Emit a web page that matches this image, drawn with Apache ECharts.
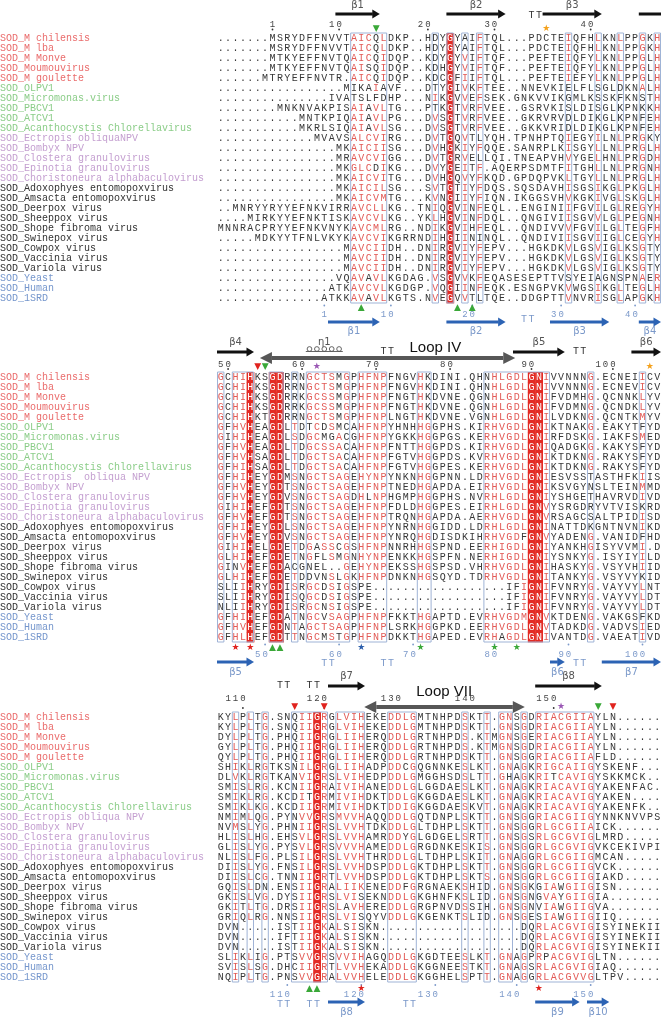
<!DOCTYPE html>
<html>
<head>
<meta charset="utf-8">
<script src="https://cdn.jsdelivr.net/npm/echarts/dist/echarts.min.js"></script>
<style>
html,body{margin:0;padding:0;background:#fff}
#chart{width:661px;height:1022px}
</style>
</head>
<body>
<div id="chart"></div>
<script>
// ---- data ----
const names = ['SOD_M chilensis','SOD_M lba','SOD_M Monve','SOD_Moumouvirus','SOD_M goulette',
  'SOD_OLPV1','SOD_Micromonas.virus','SOD_PBCV1','SOD_ATCV1','SOD_Acanthocystis Chlorellavirus',
  'SOD_Ectropis obliquaNPV','SOD_Bombyx NPV','SOD_Clostera granulovirus','SOD_Epinotia granulovirus',
  'SOD_Choristoneura alphabaculovirus','SOD_Adoxophyes entomopoxvirus','SOD_Amsacta entomopoxvirus',
  'SOD_Deerpox virus','SOD_Sheeppox virus','SOD_Shope fibroma virus','SOD_Swinepox virus',
  'SOD_Cowpox virus','SOD_Vaccinia virus','SOD_Variola virus','SOD_Yeast','SOD_Human','SOD_1SRD'];
const ectropisNames = ['SOD_Ectropis obliquaNPV','SOD_Ectropis  obliqua NPV','SOD_Ectropis obliqua NPV'];
const nameGroup = [0,0,0,0,0,1,1,1,1,1,2,2,2,2,2,3,3,3,3,3,3,3,3,3,4,4,4];

const seqBlock1 = [
  '.......MSRYDFFNVVTAICQLDKP..HDYGYAIFTQL...PDCTEIQFHLKNLPPGKH',
  '.......MSRYDFFNVVTAICQLDKP..HDYGYAIFTQL...PDCTEIQFHLKNLPPGKH',
  '.......MTKYEFFNVTQAICQIDQP..KDYGYVIFTQF...PEFTEIQFYLKNLPPGLH',
  '.......MTKYEFFNVTQAISQIDQP..KDHGYVIFTQF...PEFTEIQFYLKNLPPGLH',
  '......MTRYEFFNVTR.AICQIDQP..KDCGFIIFTQL...PEFTEIEFYLKNLPPGLH',
  '.................MIKAIAVF...DTYGIVKFTEE..NNEVKIELFLSGLDKNALH',
  '...............IVATSLFDHP...NIKGVVEFSEK.GNKVVIKGMLKSSKFKNSTH',
  '........MNKNVAKPISAIAVLTG...PTKGTVRFVEE..GSRVKISLDISGLKPNKKH',
  '...........MNTKPIQAIAVLPG...DVSGTVRFVEE..GKRVRVDLDIKGLKPNFEH',
  '...........MKRLSIQAIAVLSG...DVSGTVRFVEE..GKKVRIDLDIKGLKPNFEH',
  '.............MVAVSALCVIRG...DVTGQVTLYQH.TPNHPTQIEGYILNLPRGKY',
  '................MKAICIISG...DVHGKIYFQQE.SANRPLKISGYLLNLPRGLH',
  '................MRAVCVIGG...DVTGRVELLQI.TNEAPVHVYGELHNLPRGDH',
  '................MKGLCDIKG...DVYGEITF.AQERPSDMTFITGHLLNLPRGNH',
  '................MKAICVITG...DVHGQVYFKQD.GPDQPVKLTGYLLNLPRGLH',
  '................MKAICILSG...SVTGTIYFDQS.SQSDAVHISGSIKGLPKGLH',
  '................MKAICVMTG...KVNGIIYFIQN.IKGGSVHVKGKIVGLSKGLH',
  '..MNRYYRYYEFNKVIRRAVCLLKG..TNIQGVINFEQL..ENGINIIFGVILGLREGYH',
  '....MIRKYYEFNKTISKAVCVLKG..YKLHGVINFDQL..QNGIVIISGVVLGLPEGNH',
  'MNNRACPRYYEFNKVNYKAVCMLRG..NDIKGVIHFEQL..QNDIVVVFGVILGLTEGFH',
  '.....MDKYYTFNLVKYKAVCVIKGRRNDIHGIININQL..QNDIVIISGVIIGLCEGYH',
  '.................MAVCIIDH..DNIRGVIYFEPV...HGKDKVLGSVIGLKSGTY',
  '.................MAVCIIDH..DNIRGVIYFEPV...HGKDKVLGSVIGLKSGTY',
  '.................MAVCIIDH..DNIRGVIYFEPV...HGKDKVLGSVIGLKSGTY',
  '................VQAVAVLKGDAG.VSGVVKFEQASESEPTTVSYEIAGNSPNAER',
  '...............ATKAVCVLKGDGP.VQGIINFEQK.ESNGPVKVWGSIKGLTEGLH',
  '..............ATKKAVAVLKGTS.NVEGVVTLTQE..DDGPTTVNVRISGLAPGKH'
];
const seqBlock2 = [
  'GCHIHKSGDRRNGCTSMGPHFNPFNGVHKDINI.QHNHLGDLGNIVVNNNG.ECNEIICV',
  'GCHIHKSGDRRNGCTSMGPHFNPFNGVHKDINI.QHNHLGDLGNIVVNNNG.ECNEVICV',
  'GCHIHKSGDRRKGCSSMGPHFNPFNGTHKDVNE.QGNHLGDLGNIFVDMHG.QCNNKLYV',
  'GCHIHKSGDRRKGCSSMGPHFNPFNGTHKDVNE.QGNHLGDLGNIFVDMNG.QCNDKLYV',
  'GCHIHKTGDRRNGCTSMGPHFNPLNGTHKDVNE.VGNHLGDLGNILVDKNG.QCNTKMYV',
  'GFHVHEAGDLTDTCDSMCAHFNPYHNHHGGPHS.KIRHVGDLGNIKTNAKG.EAKYTFYD',
  'GIHIHEAGDLSDGCMGACGHFNPYGKKHGGPGS.KERHVGDLGNIRFDSKG.IAKFSMED',
  'GFHVHEAGDLTDGCSSACAHFNPFNTTHGGPDS.KIRHVGDLGNIQADGKG.KAKYSFYD',
  'GFHVHSAGDLTDGCTSACAHFNPFGTVHGGPDS.KVRHVGDLGNIKTDKNG.RAKYSFYD',
  'GFHIHSAGDLTDGCTSACAHFNPFGTVHGGPES.KERHVGDLGNIKTDKNG.RAKYSFYD',
  'GFHIHEYGDMSNGCTSAGEHYNPYNKNHGGPNN.LDRHVGDLGNIESVSSTASTHFKIIS',
  'GFHVHEYGDTSNGCTSAGEHFNPTNEDHGAPDA.EIRHVGDLGNIKSVGYNSLTEINMMD',
  'GFHVHEYGDVSNGCTSAGDHLNPHGMPHGGPHS.NVRHLGDLGNIYSHGETHAVRVDIVD',
  'GIHIHEFGDTSNGCTSAGEHFNPFDLDHGGPES.EIRHLGDLGNVYSRGDRYVTVISKRD',
  'GFHVHEFGDTSNGCTSAGEHFNPTRQNHGAPDA.AERHVGDLGNVRSAGCSALTPIDISD',
  'GFHIHEYGDLSNGCTSAGEHFNPYNRNHGGIDD.LDRHLGDLGNINATTDKGNTNVNIKD',
  'GFHVHEYGDVSNGCTSAGEHFNPYNRQHGDISDKIHRHVGDFGNVYADENG.VANIDFHD',
  'GIHIHELGDETDGASSCGSHFNPNNRHHGSPND.EERHIGDLGNIYANKHGISYVVMI.D',
  'GLHIHEFGDETNGFLSMGNHYNPENKKHGSPFN.NERHIGDLGNIYSNKYG.ISYIYILD',
  'GINVHEFGDACGNEL..GEHYNPEKSSHGSPSD.VHRHVGDLGNIHASKYG.VSYVHIID',
  'GLHIHEFGDETDDVNSLGKHFNPDNKNHGSQYD.TDRHVGDLGNITANKYG.VSYVYKID',
  'SLIIHRYGDISRGCDSIGSPE..................IFIGNIFVNRYG.VAYVYLNT',
  'SLIIHRYGDISQGCDSIGSPE..................IFIGNIFVNRYG.VAYVYLDT',
  'NLIIHRYGDISRGCNSIGSPE..................IFIGNIFVNRYG.VAYVYLDT',
  'GFHIHEFGDATNGCVSAGPHFNPFKKTHGAPTD.EVRHVGDMGNVKTDENG.VAKGSFKD',
  'GFHVHEFGDNTAGCTSAGPHFNPLSRKHGGPKD.EERHVGDLGNVTADKDG.VADVSIED',
  'GFHLHEFGDTTNGCMSTGPHFNPDKKTHGAPED.EVRHAGDLGNIVANTDG.VAEATIVD'
];
const seqBlock3 = [
  'KYLPLTG.SNQIIGRGLVIHEKEDDLGMTNHPDSKTT.GNSGDRIACGIIAYLN......',
  'KYLPLTG.SNQIIGRGLVIHEKEDDLGMTNHPDSKTT.GNSGDRIACGIIAYLN......',
  'DYLPLTG.PHQIIGRGLIIHERQDDLGRTNHPDS.KTMGNSGERIACGIIAYLN......',
  'GYLPLTG.PHQIIGRGLIIHERQDDLGRTNHPDS.KTMGNSGDRIACGIIAYLN......',
  'QYLPLTG.PHQIIGRGLIIHERQDDLGRTNHPDSKTT.GNSGGRIACGIIAFLD......',
  'SHIKLRGTKSNILGRGLIIHADPDDCGQGNNKESLKT.GNAGKRIGCAIIGYSKENF...',
  'DLVKLRGTKANVIGRSLVIHEDPDDLGMGGHSDSLTT.GHAGKRITCAVIGYSKKMCK..',
  'SMISLRG.KCNIIGRAIVIHANEDDLGLGGDAESLKT.GNAGKRIACAVIGYAKENFAC.',
  'SMIKLRG.KCDITGRMIVIHDKTDDLGKGGDAESLKT.GNAGKRIACAVIGYAKEN....',
  'SMIKLKG.KCDIIGRMIVIHDKTDDIGKGGDAESKVT.GNAGKRIACAVIGYAKENFK..',
  'NMIMLQG.PYNVVGRSMVVHAQQDDLGQTDNPLSKTT.GNSGGRIACGIIGYNNKNVVPS',
  'NVMSLYG.PHNIIGRSLVVHTDKDDLGLTDHPLSKTT.GNSGGRLGCGIIAICK......',
  'HLISLHG.EHSVLGRSLVVHAMRDDYGLGDGELSRTT.GNSGSRLGCGVIGLMRD.....',
  'GLISLYG.PYSVLGRSVVVHAMEDDLGRGDNKESKIS.GNSGGRLGCGVIGVKCEKIVPI',
  'NLISLFG.PLSILGRSLVVHTHRDDLGLTDHPLSKIT.GNAGGRLGCGIIGMCAN.....',
  'DIISLYG.FNSILGRSLVVHDSPDDLGKTDHPLSKTT.GNSGGRLGCGIIGVCK......',
  'DIISLCG.TNNIIGRTLVVHDSPDDLGKTDHPLSKTS.GNSGGRLGCGIIGIAKD.....',
  'GQISLDN.ENSIIGRALIIKENEDDFGRGNAEKSHID.GNSGKGIAWGIIGISN......',
  'GKISLVG.DYSIIGRSLVISEKNDDLGKGHNFKSLID.GNSGNGVAYGIIGIA.......',
  'GKITLTG.DRSIIGRSLAVHEREDDLGRGPNVDSSIH.GNSGNVIAWGIIGVA.......',
  'GRIQLRG.NNSIIGRSLVISQYVDDLGKGENKTSLID.GNSGESIAWGIIGIIQ......',
  'DVN.....ISTIIGKALSISKN...................DQRLACGVIGISYINEKII',
  'DVN.....IFTIIGKALSISKN...................DQRLACGVIGISYINEKII',
  'DVN.....ISTIIGKALSISKN...................DQRLACGVIGISYINEKII',
  'SLIKLIG.PTSVVGRSVVIHAGQDDLGKGDTEESLKT.GNAGPRPACGVIGLTN......',
  'SVISLSG.DHCIIGRTLVVHEKADDLGKGGNEESTKT.GNAGSRLACGVIGIAQ......',
  'NQIPLTG.PNSVVGRALVVHELEDDLGKGGHELSPTT.GNAGGRLACGVVGLTPV.....'
];

// boxed column ranges and strictly conserved (red) columns
const boxes = [
  [[18,22],[29,29],[31,31],[33,33],[35,35],[47,47],[51,51],[54,54],[57,57],[59,59]],
  [[0,0],[2,4],[7,8],[10,10],[12,17],[19,22],[27,28],[36,44],[50,50],[57,57]],
  [[2,2],[4,4],[6,6],[10,14],[16,19],[23,26],[33,33],[36,36],[38,39],[41,41],[43,50]]
];
const conserved = [[31],[4,7,8,42,43],[13]];

// numbering: [label, column]
const topNums = [
  [['1',7],['10',16],['20',28],['30',37],['40',50]],
  [['50',1],['60',11],['70',21],['80',31],['90',42],['100',53]],
  [['110',3],['120',14],['130',24],['140',34],['150',45]]
];
const botNums = [
  [['1',14],['10',23],['20',34],['30',46],['40',56]],
  [['50',6],['60',16],['70',26],['80',37],['90',47],['100',57]],
  [['110',9],['120',19],['130',29],['140',40],['150',50]]
];
// secondary structure: [label, fromCol, toCol, arrowhead]
const topSS = [
  [['β1',16,21,1],['β2',31,38,1],['β3',44,51,1],['',57,59,0]],
  [['β4',0,4,1],['β5',40,46,1],['β6',56,59,1]],
  [['β7',15,19,1],['β8',43,51,1]]
];
const botSS = [
  [['β1',15,21,1],['β2',31,38,1],['β3',45,52,1],['β4',57,59,1]],
  [['β5',0,4,1],['β6',45,46,1],['β7',52,59,1]],
  [['β8',15,19,1],['β9',43,48,1],['β10',50,52,1]]
];
const topTT = [[42],[22,48],[8,12]];
const botTT = [[41],[14,22,48],[8,12,25]];
const helices = [[],[['η1',12,16]],[]];
// [label, text centre, arrow from, arrow to]
const loops = [[],[['Loop IV',29.5,5.8,40.3]],[['Loop VII',30.7,19.9,41.6]]];
const topMarks = [
  [[21,'▼','g'],[44,'★','o']],
  [[5,'▼','r'],[6,'▼','g'],[13,'★','p'],[58,'★','o']],
  [[10,'▼','r'],[14,'▼','r'],[46,'★','p'],[51,'▼','g'],[53,'▼','r']]
];
const botMarks = [
  [[19,'▲','g'],[32,'▲','g'],[34,'▲','g']],
  [[2,'★','r'],[4,'★','r'],[7,'▲','g'],[8,'▲','g'],[19,'★','b'],[27,'★','g'],[37,'★','g'],[40,'★','g']],
  [[12,'▲','g'],[13,'▲','g'],[19,'★','r'],[43,'★','r']]
];

// ---- styles / layout ----
const groupColors = ['#ea6c6c','#8bcd88','#c49fd0','#333333','#7596cc'];
const markColors = {g:'#3aa838', r:'#e0231e', o:'#f4a11c', p:'#9a57b4', b:'#2a5dab'};
const RED_FILL = '#e32b24', RED_TXT = '#e25a56', INK = '#363636', BOX = '#9fb3d6';
const BLUE = '#2c63b4', BLUE_TXT = '#7b99ca', GREY_TXT = '#555';
const MONO = '"Liberation Mono", "DejaVu Sans Mono", monospace';
const SEQ_FONT = '10px ' + MONO, NUM_FONT = '9px ' + MONO;
const X_MIN = -29.324, X_MAX = 60;
const gridTop = [0, 339, 679];
const levels = [
  {ssLab:-3.3, ss:-2.4, tt:-2.3, coil:-2.7, loopTxt:-2.8, loop:-1.9, num:-1.35, dot:-0.85, mark:-0.95,
   bDot:26.75, bMark:27.0, bNum:27.7, bTT:28.1, bSS:28.4, bLab:29.3},
  {ssLab:-3.5, ss:-2.5, tt:-2.6, coil:-2.7, loopTxt:-2.9, loop:-1.9, num:-1.2, dot:-0.8, mark:-1.0,
   bDot:26.75, bMark:27.1, bNum:27.8, bTT:28.6, bSS:28.5, bLab:29.5},
  {ssLab:-4.1, ss:-3.1, tt:-3.2, coil:-2.7, loopTxt:-2.55, loop:-1.0, num:-1.8, dot:-0.9, mark:-1.05,
   bDot:26.8, bMark:27.2, bNum:27.8, bTT:28.7, bSS:28.5, bLab:29.5}
];
const blocks = [seqBlock1, seqBlock2, seqBlock3];

// similarity groups used to colour residues inside boxes
const simGroups = ['ILVM','FYW','KRH','DE','NQ','ST','AG','C','P'];
function groupOf(ch) {
  for (let i = 0; i < simGroups.length; i++) if (simGroups[i].indexOf(ch) >= 0) return i;
  return -1;
}

function buildCells(seqs, boxList, reds) {
  const boxed = new Set();
  boxList.forEach(([a, b]) => { for (let c = a; c <= b; c++) boxed.add(c); });
  const redSet = new Set(reds);
  const cells = [];
  for (let c = 0; c < 60; c++) {
    let dom = -1;
    if (boxed.has(c) && !redSet.has(c)) {
      const counts = {}; let n = 0;
      seqs.forEach(s => { const g = groupOf(s[c]); if (g >= 0) { counts[g] = (counts[g] || 0) + 1; n++; } });
      let best = -1, bc = 0;
      for (const g in counts) if (counts[g] > bc) { bc = counts[g]; best = +g; }
      if (bc >= 0.5 * n) dom = best;
    }
    seqs.forEach((s, r) => {
      const ch = s[c] || '.';
      let kind = 'plain';
      if (redSet.has(c) && ch !== '.') kind = 'fill';
      else if (dom >= 0 && groupOf(ch) === dom) kind = 'red';
      cells.push({c, r, ch, kind});
    });
  }
  return cells;
}

function seqSeries(b) {
  const cells = buildCells(blocks[b], boxes[b], conserved[b]);
  return {
    type: 'custom', xAxisIndex: b, yAxisIndex: b, silent: true, clip: false, z: 2,
    data: cells.map(d => [d.c + 0.5, d.r]),
    renderItem(params, api) {
      const d = cells[params.dataIndex];
      const p = api.coord([api.value(0), api.value(1)]);
      const sz = api.size([1, 1]);
      const w = Math.abs(sz[0]), h = Math.abs(sz[1]);
      const kids = [];
      if (d.kind === 'fill') {
        kids.push({type: 'rect', shape: {x: p[0] - w / 2, y: p[1] - h / 2, width: w + 0.4, height: h + 0.4},
          style: {fill: RED_FILL}});
      }
      kids.push({type: 'text', x: p[0], y: p[1] + 0.5, style: {text: d.ch, font: SEQ_FONT,
        fill: d.kind === 'fill' ? '#fff' : d.kind === 'red' ? RED_TXT : INK,
        align: 'center', verticalAlign: 'middle'}});
      return {type: 'group', children: kids};
    }
  };
}

function boxSeries(b) {
  const n = blocks[b].length;
  return {
    type: 'custom', xAxisIndex: b, yAxisIndex: b, silent: true, clip: false, z: 3,
    data: boxes[b].map(([a, e]) => [a, e + 1]),
    renderItem(params, api) {
      const p1 = api.coord([api.value(0), -0.5]);
      const p2 = api.coord([api.value(1), n - 0.5]);
      return {type: 'rect', shape: {x: p1[0] + 0.5, y: p1[1], width: p2[0] - p1[0] - 1, height: p2[1] - p1[1]},
        style: {fill: 'none', stroke: BOX, lineWidth: 1}};
    }
  };
}

function nameSeries(b) {
  const list = names.map((nm, i) => i === 10 ? ectropisNames[b] : nm);
  return {
    type: 'custom', xAxisIndex: b, yAxisIndex: b, silent: true, clip: false, z: 2,
    data: list.map((nm, i) => [X_MIN, i]),
    renderItem(params, api) {
      const i = params.dataIndex;
      const p = api.coord([api.value(0), api.value(1)]);
      return {type: 'text', x: p[0], y: p[1] + 0.5, style: {text: list[i], font: SEQ_FONT,
        fill: groupColors[nameGroup[i]], align: 'left', verticalAlign: 'middle'}};
    }
  };
}

function buildAnn(b) {
  const L = levels[b], out = [];
  const txt = (x, v, text, fill, font) => out.push({k: 'txt', x, v, text, fill, font});
  topNums[b].forEach(([lab, col]) => {
    lab.split('').reverse().forEach((d, k) => txt(col - k + 0.5, L.num, d, '#444', NUM_FONT));
    out.push({k: 'pt', x: col + 0.5, v: L.dot, fill: '#333'});
  });
  botNums[b].forEach(([lab, col]) => {
    lab.split('').reverse().forEach((d, k) => txt(col - k + 0.5, L.bNum, d, BLUE_TXT, NUM_FONT));
    out.push({k: 'pt', x: col + 0.5, v: L.bDot, fill: BLUE_TXT});
  });
  topSS[b].forEach(([lab, a, e, head]) => {
    out.push({k: 'arrow', x: a, a, b: e + 1, v: L.ss, color: '#111', head});
    if (lab) txt((a + e + 1) / 2, L.ssLab, lab, GREY_TXT, '10px "DejaVu Sans"');
  });
  botSS[b].forEach(([lab, a, e, head]) => {
    out.push({k: 'arrow', x: a, a, b: e + 1, v: L.bSS, color: BLUE, head});
    txt((a + e + 1) / 2, L.bLab, lab, BLUE_TXT, '10px "DejaVu Sans"');
  });
  topTT[b].forEach(c => { txt(c + 0.5, L.tt, 'T', '#333', SEQ_FONT); txt(c + 1.5, L.tt, 'T', '#333', SEQ_FONT); });
  botTT[b].forEach(c => { txt(c + 0.5, L.bTT, 'T', BLUE_TXT, SEQ_FONT); txt(c + 1.5, L.bTT, 'T', BLUE_TXT, SEQ_FONT); });
  helices[b].forEach(([lab, a, e]) => {
    out.push({k: 'coil', x: a, a, b: e + 1, v: L.coil});
    txt((a + e + 1) / 2, L.ssLab, lab, GREY_TXT, '10px "DejaVu Sans"');
  });
  loops[b].forEach(([lab, cx, a, e]) => {
    out.push({k: 'dbl', x: a, a, b: e, v: L.loop});
    txt(cx, L.loopTxt, lab, '#111', '15px "Liberation Sans", Arial, sans-serif');
  });
  topMarks[b].forEach(([c, g, col]) => txt(c + 0.5, L.mark, g, markColors[col], '9px "DejaVu Sans"'));
  botMarks[b].forEach(([c, g, col]) => txt(c + 0.5, L.bMark, g, markColors[col], '9px "DejaVu Sans"'));
  return out;
}

function drawAnn(it, api) {
  if (it.k === 'txt') {
    const p = api.coord([it.x, it.v]);
    return {type: 'text', x: p[0], y: p[1], style: {text: it.text, font: it.font, fill: it.fill,
      align: 'center', verticalAlign: 'middle'}};
  }
  if (it.k === 'pt') {
    const p = api.coord([it.x, it.v]);
    return {type: 'circle', shape: {cx: p[0], cy: p[1], r: 0.9}, style: {fill: it.fill}};
  }
  const p1 = api.coord([it.a, it.v]), p2 = api.coord([it.b, it.v]);
  if (it.k === 'arrow') {
    const hl = it.head ? 7 : 0;
    const kids = [{type: 'line', shape: {x1: p1[0], y1: p1[1], x2: p2[0] - hl, y2: p2[1]},
      style: {stroke: it.color, lineWidth: 3}}];
    if (it.head) kids.push({type: 'polygon', shape: {points: [[p2[0] - hl - 0.5, p2[1] - 4.5], [p2[0], p2[1]], [p2[0] - hl - 0.5, p2[1] + 4.5]]},
      style: {fill: it.color}});
    return {type: 'group', children: kids};
  }
  if (it.k === 'dbl') {
    const hl = 12, hw = 6, c = '#575757';
    return {type: 'group', children: [
      {type: 'line', shape: {x1: p1[0] + hl, y1: p1[1], x2: p2[0] - hl, y2: p2[1]}, style: {stroke: c, lineWidth: 4}},
      {type: 'polygon', shape: {points: [[p1[0], p1[1]], [p1[0] + hl, p1[1] - hw], [p1[0] + hl, p1[1] + hw]]}, style: {fill: c}},
      {type: 'polygon', shape: {points: [[p2[0], p2[1]], [p2[0] - hl, p2[1] - hw], [p2[0] - hl, p2[1] + hw]]}, style: {fill: c}}
    ]};
  }
  if (it.k === 'coil') {
    const n = 5, w = (p2[0] - p1[0]) / n, kids = [];
    for (let i = 0; i < n; i++) {
      kids.push({type: 'circle', shape: {cx: p1[0] + w * (i + 0.5), cy: p1[1] - 1, r: w * 0.32},
        style: {fill: 'none', stroke: '#555', lineWidth: 0.9}});
    }
    kids.push({type: 'line', shape: {x1: p1[0], y1: p1[1] + 1.5, x2: p2[0], y2: p2[1] + 1.5},
      style: {stroke: '#555', lineWidth: 0.9}});
    return {type: 'group', children: kids};
  }
  return null;
}

function annSeries(b) {
  const items = buildAnn(b);
  return {
    type: 'custom', xAxisIndex: b, yAxisIndex: b, silent: true, clip: false, z: 4,
    data: items.map(it => [it.x, it.v]),
    renderItem(params, api) { return drawAnn(items[params.dataIndex], api); }
  };
}

const chart = echarts.init(document.getElementById('chart'), null, {renderer: 'canvas'});
const series = [];
[0, 1, 2].forEach(b => {
  series.push(seqSeries(b), boxSeries(b), nameSeries(b), annSeries(b));
});
chart.setOption({
  animation: false,
  backgroundColor: '#fff',
  grid: gridTop.map(t => ({left: 0, top: t, width: 661, height: 340})),
  xAxis: [0, 1, 2].map(b => ({type: 'value', gridIndex: b, min: X_MIN, max: X_MAX, show: false})),
  yAxis: [0, 1, 2].map(b => ({type: 'value', gridIndex: b, min: -3.8, max: 30.2, inverse: true, show: false})),
  series
});
</script>
</body>
</html>
